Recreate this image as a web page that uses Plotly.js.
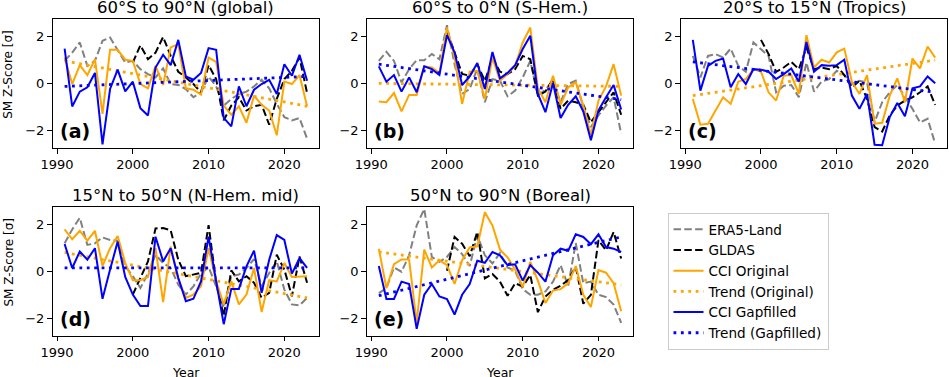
<!DOCTYPE html>
<html>
<head>
<meta charset="utf-8">
<script src="https://cdn.plot.ly/plotly-3.0.1.min.js"></script>
<style>html,body{margin:0;padding:0;background:#fff;}#chart{width:949px;height:377px;}</style>
</head>
<body>
<div id="chart"></div>
<script>
// ---- data ----
const years = [1991,1992,1993,1994,1995,1996,1997,1998,1999,2000,2001,2002,2003,2004,2005,2006,2007,2008,2009,2010,2011,2012,2013,2014,2015,2016,2017,2018,2019,2020,2021,2022,2023];
const trendYears = [1991, 2023];
const regionTitles = ["60°S to 90°N (global)", "60°S to 0°N (S-Hem.)", "20°S to 15°N (Tropics)", "15°N to 50°N (N-Hem. mid)", "50°N to 90°N (Boreal)"];
const panelLetters = ["(a)", "(b)", "(c)", "(d)", "(e)"];
const seriesNames = ["ERA5-Land", "GLDAS", "CCI Original", "Trend (Original)", "CCI Gapfilled", "Trend (Gapfilled)"];
const N = null;

// (a) global
const era5_a  = [0.95,1.3,1.73,0.74,0.95,1.8,1.94,1.38,0.88,0.95,0.6,0.39,0.25,0.63,-0.03,-0.07,-0.24,-0.59,-0.38,0.29,-0.13,-0.94,-0.66,-0.45,-0.35,-0.13,0.15,-0.21,-0.87,-1.43,-1.57,-1.47,-2.34];
const gldas_a = [N,N,N,N,N,N,N,N,N,0.88,1.61,1.02,1.3,1.96,1.16,0.49,0.25,-0.03,-0.38,0.77,0.18,-1.57,-0.94,-0.59,-1.15,-0.97,-0.91,-1.75,-0.66,0.18,0.53,1.09,-0.41];
const orig_a  = [1.09,-0.03,0.77,0.35,1.02,-1.29,1.42,1.42,1.0,0.95,-0.03,-0.21,0.74,-0.07,1.52,1.66,-0.21,-0.27,-0.48,1.09,0.91,-0.94,-1.33,-0.97,-1.67,-0.52,-0.91,-1.15,-2.2,0.07,-0.03,0.35,-0.97];
const gap_a   = [1.47,-0.98,-0.35,-0.17,0.44,-2.58,-0.24,0.58,-0.34,0.07,-1.05,-1.36,0.67,1.21,0.77,1.84,0.29,0.15,0.44,1.49,1.42,-1.46,-1.82,-0.13,-0.97,-0.27,-0.03,0.15,-0.45,0.81,0.32,1.21,0.11];
const trendOrig_a = [0.95, -0.97];
const trendGap_a  = [-0.13, 0.29];

// (b) S-Hem.
const era5_b  = [0.95,1.33,0.95,0.04,0.6,0.98,0.98,1.24,1.02,2.46,0.81,-0.45,-0.24,0.63,-0.8,0.18,0.11,-0.55,-0.31,0.25,0.95,-0.52,-0.27,0.11,-0.8,-0.03,0.11,-1.01,-1.85,-1.36,-0.94,-0.59,-2.13];
const gldas_b = [N,N,N,N,N,N,N,N,N,2.22,1.3,0.4,0.32,0.81,0.11,1.05,0.49,0.39,0.6,1.16,1.02,-0.52,-0.35,0.18,-1.08,-0.73,-0.8,-0.91,-1.64,-1.22,-0.8,-0.38,-1.33];
const orig_b  = [-0.77,-0.8,-0.41,-1.19,-0.49,-0.49,0.72,0.67,0.44,2.36,1.09,-0.87,0.49,0.53,-0.66,1.09,0.11,0.39,0.74,1.73,2.36,-0.21,-0.8,0.32,-0.91,-0.17,0.04,-0.94,-2.2,-0.73,-0.13,0.81,-0.52];
const gap_b   = [0.72,0.07,0.35,-0.35,0.25,-0.38,0.72,0.6,0.35,2.04,1.31,-0.07,0.29,0.86,-0.24,1.33,0.21,0.44,0.77,1.45,2.01,-0.45,-1.22,0.01,-1.47,-0.91,-0.55,-1.19,-2.41,-1.15,-0.59,-0.07,-1.11];
const trendOrig_b = [0.0, -0.13];
const trendGap_b  = [0.81, -0.69];

// (c) Tropics
const era5_c  = [1.16,0.25,1.16,1.24,1.09,1.47,0.74,0.49,1.73,1.45,1.16,-0.38,-0.1,-0.07,-0.59,0.88,-0.35,0.07,0.18,0.53,0.35,-0.03,0.11,0.04,-1.64,-0.8,-0.38,-0.07,-0.59,-1.08,-1.66,-1.5,-2.55];
const gldas_c = [N,N,N,N,N,N,N,N,N,1.84,1.24,0.49,0.67,0.91,0.6,1.52,0.6,0.67,0.6,0.74,0.35,-0.17,0.11,-0.66,-1.85,-2.04,-1.36,-0.94,-0.73,-0.59,-0.38,-0.13,-0.91];
const orig_c  = [-0.66,-1.75,-1.71,-1.15,-0.59,-0.87,0.07,0.18,0.6,0.49,-0.38,-0.73,0.32,0.35,-0.45,2.04,0.67,1.0,0.88,1.31,1.47,0.07,-0.45,0.35,-1.71,-1.67,-0.52,0.21,-0.8,1.05,0.63,1.56,1.09];
const gap_c   = [1.84,-0.31,0.74,0.95,1.05,-0.17,0.39,-0.03,0.6,0.58,0.49,0.18,0.39,0.63,0.07,1.75,0.49,0.77,0.74,0.77,1.0,-0.52,-1.08,-0.45,-2.6,-2.62,-1.43,-0.83,-1.39,-0.21,-0.13,0.29,0.0];
const trendOrig_c = [-0.52, 0.98];
const trendGap_c  = [0.91, -0.38];

// (d) N-Hem. mid
const era5_d  = [1.18,1.77,2.26,1.11,1.18,1.43,1.32,1.29,0.2,-0.22,-0.72,-0.11,0.69,0.34,0.13,-0.58,-1.0,-0.65,-0.11,0.17,-0.65,-1.56,-0.22,-0.15,0.13,0.51,-0.65,-0.08,0.41,-0.79,-1.42,-1.46,-1.14];
const gldas_d = [N,N,N,N,N,N,N,N,N,-1.0,-0.29,0.41,1.81,1.83,1.73,0.48,-0.22,-0.15,-0.08,1.95,-0.5,-1.91,0.03,-0.44,-0.22,-0.5,-1.14,-0.93,0.69,0.06,-1.07,0.62,-0.5];
const orig_d  = [1.77,1.35,1.71,1.29,1.71,0.22,0.97,1.49,0.34,-0.39,-0.39,-0.25,0.97,-1.32,1.04,-0.36,-1.14,-1.0,-0.65,0.97,-0.44,-1.42,-0.44,-1.42,-1.0,0.13,-1.74,-0.39,-0.44,0.34,-0.25,-0.25,-0.22];
const gap_d   = [1.15,0.13,0.83,0.48,0.97,-1.18,0.06,1.25,-0.25,-1.0,-1.49,-1.49,1.46,0.41,0.97,-0.29,-1.28,-1.18,-0.44,1.46,-0.44,-2.26,-0.76,-0.76,0.2,0.87,-0.93,0.48,1.53,1.32,-0.11,0.55,0.13];
const trendOrig_d = [0.79, -1.14];
const trendGap_d  = [0.13, 0.13];

// (e) Boreal
const era5_e  = [-0.94,-0.73,0.15,-0.03,0.67,1.94,2.64,0.6,0.39,0.6,1.02,0.72,0.21,1.52,0.67,0.32,0.77,0.15,0.01,-0.77,-1.01,-1.01,-0.87,-0.45,0.25,-0.63,1.19,-0.52,-0.45,-1.01,-1.11,-1.43,-2.2];
const gldas_e = [N,N,N,N,N,N,N,N,N,0.01,1.45,1.16,0.63,1.66,-0.31,-0.13,-0.45,-1.05,-0.52,-0.66,-0.17,-1.75,-1.08,-0.8,-0.63,-0.38,0.18,-1.39,-1.01,1.31,0.88,1.66,0.53];
const orig_e  = [0.95,-0.73,0.29,0.49,0.49,-2.2,0.91,0.15,0.46,0.25,-0.55,0.46,1.0,1.05,2.5,1.94,0.91,0.58,0.07,-0.69,0.39,-0.41,-1.36,-0.83,-0.77,-0.52,0.21,-1.01,-1.53,0.04,-0.07,-0.52,-1.71];
const gap_e   = [0.21,-1.19,-1.19,-0.45,-0.55,-2.46,-1.01,-0.55,-1.08,-1.19,-1.85,-1.01,-0.55,0.44,0.35,0.81,0.67,0.25,0.29,-0.41,0.25,-0.07,-0.45,0.67,0.95,0.86,1.56,1.45,1.14,1.56,1.02,0.95,0.81];
const trendOrig_e = [0.81, -0.59];
const trendGap_e  = [-1.05, 1.45];

const xTicks = [1990, 2000, 2010, 2020];
const yTicks = [-2, 0, 2];

// ---- build ----
const panels = [
  [era5_a, gldas_a, orig_a, trendOrig_a, gap_a, trendGap_a],
  [era5_b, gldas_b, orig_b, trendOrig_b, gap_b, trendGap_b],
  [era5_c, gldas_c, orig_c, trendOrig_c, gap_c, trendGap_c],
  [era5_d, gldas_d, orig_d, trendOrig_d, gap_d, trendGap_d],
  [era5_e, gldas_e, orig_e, trendOrig_e, gap_e, trendGap_e]
];
const styles = [
  {color: "#808080", width: 2, dash: "7.5px,3.3px"},
  {color: "#000000", width: 2, dash: "7.5px,3.3px"},
  {color: "#FFA500", width: 2, dash: "solid"},
  {color: "#FFA500", width: 2.8, dash: "2.8px,4.6px"},
  {color: "#0000FF", width: 2, dash: "solid"},
  {color: "#0000FF", width: 2.8, dash: "2.8px,4.6px"}
];

const W = 949, H = 377;
const colX = [[52.5, 319.2], [366.7, 633.3], [680.7, 947.3]];
const rowY = [[19.3, 148.3], [207.3, 335.7]];
const pos = [[0,0],[1,0],[2,0],[0,1],[1,1]];

const traces = [];
const layout = {
  width: W, height: H,
  margin: {l: 0, r: 0, t: 0, b: 0},
  paper_bgcolor: "#ffffff", plot_bgcolor: "#ffffff",
  font: {family: "DejaVu Sans, sans-serif", size: 13, color: "#000"},
  showlegend: true,
  legend: {
    x: 667.5 / W, y: 1 - 213 / H, xanchor: "left", yanchor: "top",
    bordercolor: "#cccccc", borderwidth: 1, bgcolor: "rgba(255,255,255,0.8)",
    font: {family: "DejaVu Sans, sans-serif", size: 13.6, color: "#000"},
    tracegroupgap: 0, itemwidth: 30
  },
  annotations: []
};

panels.forEach((series, p) => {
  const k = p + 1;
  const xa = "x" + (k === 1 ? "" : k), ya = "y" + (k === 1 ? "" : k);
  const [c, r] = pos[p];
  series.forEach((vals, s) => {
    const isTrend = (s === 3 || s === 5);
    traces.push({
      type: "scatter", mode: "lines",
      x: isTrend ? trendYears : years, y: vals,
      xaxis: xa, yaxis: ya,
      name: seriesNames[s], legendgroup: seriesNames[s],
      showlegend: p === 0,
      connectgaps: false,
      line: {color: styles[s].color, width: styles[s].width, dash: styles[s].dash},
      hoverinfo: "skip"
    });
  });
  const axBase = {
    showline: true, mirror: true, linecolor: "#000", linewidth: 1,
    ticks: "outside", ticklen: 4.5, tickwidth: 1, tickcolor: "#000",
    showgrid: false, zeroline: false,
    tickfont: {family: "DejaVu Sans, sans-serif", size: 13, color: "#000"}
  };
  layout["xaxis" + (k === 1 ? "" : k)] = Object.assign({}, axBase, {
    domain: [colX[c][0] / W, colX[c][1] / W],
    anchor: ya, range: [1989.4, 2024.6],
    tickmode: "array", tickvals: xTicks, ticktext: xTicks.map(String)
  });
  layout["yaxis" + (k === 1 ? "" : k)] = Object.assign({}, axBase, {
    domain: [1 - rowY[r][1] / H, 1 - rowY[r][0] / H],
    anchor: xa, range: [-2.75, 2.71],
    tickmode: "array", tickvals: yTicks, ticktext: yTicks.map(v => v < 0 ? "\u2212" + Math.abs(v) : String(v))
  });
  // title
  layout.annotations.push({
    text: regionTitles[p], showarrow: false,
    xref: "paper", yref: "paper",
    x: (colX[c][0] + colX[c][1]) / 2 / W, y: 1 - rowY[r][0] / H,
    xanchor: "center", yanchor: "bottom", yshift: 0,
    font: {family: "DejaVu Sans, sans-serif", size: 16.5, color: "#000"}
  });
  // panel letter
  layout.annotations.push({
    text: "<b>" + panelLetters[p] + "</b>", showarrow: false,
    xref: xa + " domain", yref: ya + " domain",
    x: 0.02, y: 0.03, xanchor: "left", yanchor: "bottom",
    font: {family: "DejaVu Sans, sans-serif", size: 19, color: "#000"}
  });
  if (c === 0) {
    layout.annotations.push({
      text: "SM Z-Score [σ]", showarrow: false, textangle: -90,
      xref: "paper", yref: "paper",
      x: 8 / W, y: 1 - ((rowY[r][0] + rowY[r][1]) / 2 - 9) / H,
      xanchor: "center", yanchor: "middle",
      font: {family: "DejaVu Sans, sans-serif", size: 12, color: "#000"}
    });
  }
  if (r === 1) {
    layout.annotations.push({
      text: "Year", showarrow: false,
      xref: "paper", yref: "paper",
      x: (colX[c][0] + colX[c][1]) / 2 / W, y: 1 - 363 / H,
      xanchor: "center", yanchor: "top",
      font: {family: "DejaVu Sans, sans-serif", size: 12.5, color: "#000"}
    });
  }
});

Plotly.newPlot("chart", traces, layout, {staticPlot: true, displayModeBar: false});
</script>
</body>
</html>
